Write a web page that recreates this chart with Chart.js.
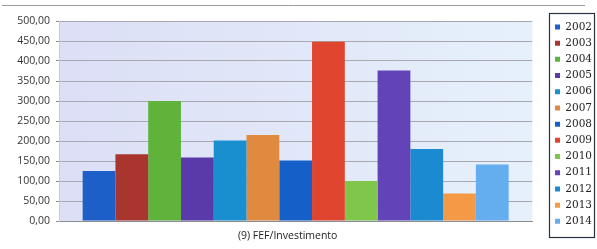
<!DOCTYPE html>
<html>
<head>
<meta charset="utf-8">
<script src="https://cdn.jsdelivr.net/npm/chart.js@4/dist/chart.umd.min.js"></script>
<style>
html,body{margin:0;padding:0;background:#fff;}
#wrap{width:597px;height:249px;position:relative;}
</style>
</head>
<body>
<div id="wrap"><canvas id="c" width="597" height="249"></canvas></div>
<script>
const categories = ['(9) FEF/Investimento'];
const years = ['2002','2003','2004','2005','2006','2007','2008','2009','2010','2011','2012','2013','2014'];
const values = [125, 167, 300, 159, 201, 215, 151, 448, 100, 376, 180, 69, 141];
const yTicks = [0, 50, 100, 150, 200, 250, 300, 350, 400, 450, 500];
const colors = ['#1d5fc9','#a8352e','#5fb33a','#5a3aa8','#1a8fcf','#df8a3e','#1460c8','#e0452f','#7fc64a','#6244b8','#1c8ad0','#f49a46','#64aef0'];

const bgPlugin = {
  id: 'bg',
  beforeDraw(chart) {
    const {ctx, chartArea: a} = chart;
    ctx.save();
    const g = ctx.createLinearGradient(a.left, 0, a.right, 0);
    g.addColorStop(0, '#dcdff6');
    g.addColorStop(1, '#e6f0fb');
    ctx.fillStyle = g;
    ctx.fillRect(a.left, a.top, a.right - a.left, a.bottom - a.top);
    ctx.strokeStyle = '#9a9a9a';
    ctx.lineWidth = 1;
    ctx.beginPath();
    ctx.moveTo(2, 5.5); ctx.lineTo(585, 5.5);
    ctx.stroke();
    ctx.restore();
  },
  afterDraw(chart) {
    const lg = chart.legend;
    if (!lg) return;
    const ctx = chart.ctx;
    ctx.save();
    ctx.strokeStyle = '#2a3340';
    ctx.lineWidth = 1.2;
    const l = Math.round(lg.left) + 0.5, t = 13.5;
    ctx.strokeRect(l, t, 594.5 - l, 237.5 - t);
    ctx.restore();
  }
};

new Chart(document.getElementById('c'), {
  type: 'bar',
  data: {
    labels: categories,
    datasets: years.map((y, i) => ({
      label: y,
      data: [values[i]],
      backgroundColor: colors[i],
      borderWidth: 0,
      yAxisID: 'y'
    }))
  },
  options: {
    responsive: false,
    animation: false,
    layout: { padding: { left: 0, right: -5, top: 16, bottom: 4 } },
    datasets: { bar: { categoryPercentage: 0.9, barPercentage: 1.0 } },
    plugins: {
      tooltip: { enabled: false },
      title: { display: true, text: ' ', font: { size: 1, lineHeight: 1 }, padding: { top: 0, bottom: 4 } },
      legend: {
        position: 'right',
        align: 'start',
        labels: {
          boxWidth: 5, boxHeight: 5, padding: 5.7,
          color: '#222',
          font: { family: 'DejaVu Serif', size: 10.5 }
        }
      }
    },
    scales: {
      x: {
        grid: { display: false, drawTicks: false },
        border: { color: '#8c8c8c' },
        afterFit(a) { a.height = 24; },
        ticks: { color: '#222', font: { family: 'Open Sans', size: 10.5 }, padding: 9, labelOffset: -8 }
      },
      y: {
        min: 0, max: 500,
        afterBuildTicks(axis) { axis.ticks = yTicks.map(v => ({ value: v })); },
        afterFit(a) { a.width = 59; },
        grid: { color: '#a8a8b0', tickLength: 3, tickColor: '#8c8c8c' },
        border: { color: '#c8cce0' },
        ticks: {
          color: '#333', font: { family: 'Open Sans', size: 10.5 }, padding: 6,
          callback: v => v.toFixed(2).replace('.', ',')
        }
      },
      gap: {
        position: 'right',
        display: true,
        grid: { display: false, drawTicks: false },
        border: { display: false },
        ticks: { display: false },
        afterFit(a) { a.width = 17; }
      }
    }
  },
  plugins: [bgPlugin]
});
</script>
</body>
</html>
